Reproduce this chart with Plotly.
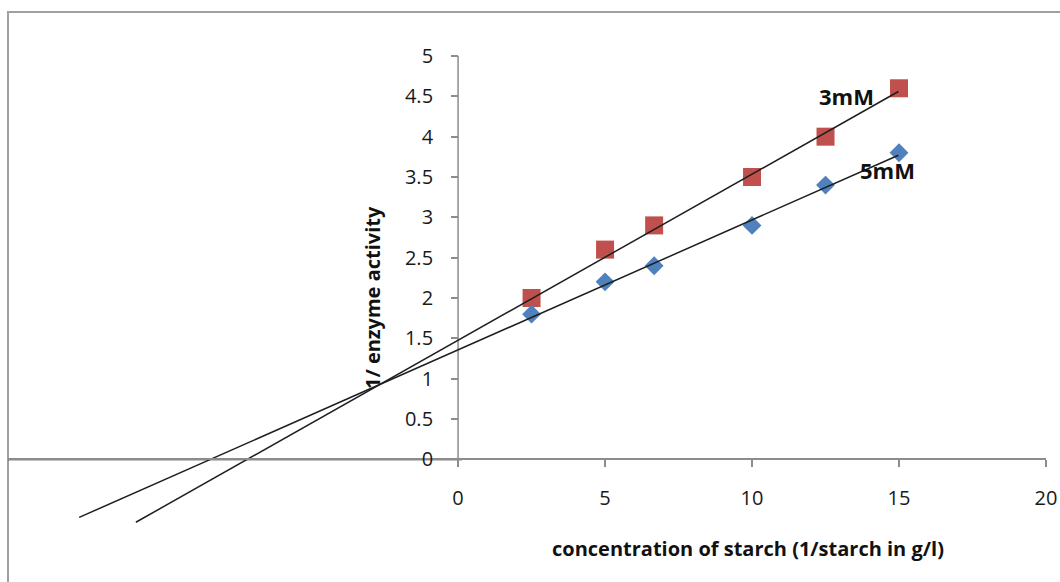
import plotly.graph_objects as go

# ---- data ----
conc_inv = [2.5, 5, 6.67, 10, 12.5, 15]          # 1/starch
act_3mM = [2.0, 2.6, 2.9, 3.5, 4.0, 4.6]         # 1/enzyme activity, 3mM
act_5mM = [1.8, 2.2, 2.4, 2.9, 3.4, 3.8]         # 1/enzyme activity, 5mM

# hand-drawn trend lines (end points)
trend_3mM_x = [-10.96, 14.98]
trend_3mM_y = [-0.78, 4.56]
trend_5mM_x = [-12.89, 14.98]
trend_5mM_y = [-0.72, 3.77]

series_labels = ["3mM", "5mM"]
label_x = [13.2, 14.62]
label_y = [4.5, 3.59]

x_ticks = [0, 5, 10, 15, 20]
y_ticks = [0, 0.5, 1, 1.5, 2, 2.5, 3, 3.5, 4, 4.5, 5]

X_MIN, X_MAX = -15.31, 20
Y_MIN, Y_MAX = -1.0, 5.0

# page margins removed via post_script; work in page pixels
W, H = 1060, 582
PL, PR, PT, PB = 8, 1046, 56, 540   # plot area in page px
L, R, T, B = PL, W - PR, PT, H - PB

FONT = "Open Sans"
AXIS_GRAY = "#8c8c8c"
TEXT = "#1a1a1a"

plot_w = PR - PL
plot_h = PB - PT


def px_to_paper_x(px):
    return (px - PL) / plot_w


def px_to_paper_y(py):
    return (PB - py) / plot_h


fig = go.Figure()

fig.add_trace(go.Scatter(
    x=conc_inv, y=act_3mM, mode="markers", name="3mM",
    marker=dict(symbol="square", size=18, color="#C0504D"),
    showlegend=False))
fig.add_trace(go.Scatter(
    x=conc_inv, y=act_5mM, mode="markers", name="5mM",
    marker=dict(symbol="diamond", size=14.5, color="#4F81BD"),
    showlegend=False))

# black baseline on negative side of the x axis
fig.add_trace(go.Scatter(
    x=[X_MIN, 0.13], y=[0, 0], mode="lines",
    line=dict(color="#111111", width=2), showlegend=False, hoverinfo="skip"))

fig.add_trace(go.Scatter(
    x=trend_3mM_x, y=trend_3mM_y, mode="lines",
    line=dict(color="#1e1e1e", width=1.5), showlegend=False))
fig.add_trace(go.Scatter(
    x=trend_5mM_x, y=trend_5mM_y, mode="lines",
    line=dict(color="#1e1e1e", width=1.5), showlegend=False))

for txt, lx, ly in zip(series_labels, label_x, label_y):
    fig.add_annotation(x=lx, y=ly, text=txt, showarrow=False,
                       font=dict(family=FONT, size=22, color="#111111", weight="bold"),
                       xanchor="center", yanchor="middle")

# y axis title (placed inside plot like the original)
fig.add_annotation(xref="paper", yref="paper",
                   x=px_to_paper_x(372), y=px_to_paper_y(298),
                   text="1/ enzyme activity", showarrow=False,
                   textangle=-90, xanchor="center", yanchor="middle",
                   font=dict(family=FONT, size=20, color="#111111", weight="bold"))

# x axis title
fig.add_annotation(xref="paper", yref="paper",
                   x=px_to_paper_x(748), y=px_to_paper_y(548),
                   text="concentration of starch (1/starch in g/l)", showarrow=False,
                   xanchor="center", yanchor="middle",
                   font=dict(family=FONT, size=20, color="#111111", weight="bold"))

# y axis line (only from 0 to 5)
fig.add_shape(type="line", xref="x", yref="y", x0=0, x1=0, y0=0, y1=Y_MAX,
              line=dict(color=AXIS_GRAY, width=1.5), layer="below")

# chart border
fig.add_shape(type="rect", xref="paper", yref="paper",
              x0=px_to_paper_x(8), x1=1.2,
              y0=-0.3, y1=px_to_paper_y(12),
              line=dict(color="#a0a0a0", width=2), layer="below")

fig.update_layout(
    width=W, height=H,
    margin=dict(l=L, r=R, t=T, b=B, autoexpand=False),
    paper_bgcolor="white", plot_bgcolor="white",
    font=dict(family=FONT, size=20, color=TEXT),
    xaxis=dict(range=[X_MIN, X_MAX], tickvals=x_ticks, showgrid=False,
               zeroline=False, showline=True, linecolor=AXIS_GRAY, linewidth=1.5,
               ticks="outside", ticklen=7, tickcolor=AXIS_GRAY, tickwidth=1.5,
               anchor="free", position=(0 - Y_MIN) / (Y_MAX - Y_MIN),
               automargin=False, ticklabeloverflow="allow",
               ticklabelstandoff=14, tickfont=dict(size=20, color=TEXT)),
    yaxis=dict(range=[Y_MIN, Y_MAX], tickvals=y_ticks, showgrid=False,
               zeroline=False, showline=False,
               ticks="outside", ticklen=7, tickcolor=AXIS_GRAY, tickwidth=1.5,
               anchor="free", position=(0 - X_MIN) / (X_MAX - X_MIN),
               automargin=False,
               ticklabelstandoff=14, tickfont=dict(size=20, color=TEXT)),
)

fig.write_html(
    "out.html",
    config={"displayModeBar": False},
    post_script="document.body.style.margin='0';"
                "document.documentElement.style.overflow='hidden';"
                "document.body.style.overflow='hidden';",
)
